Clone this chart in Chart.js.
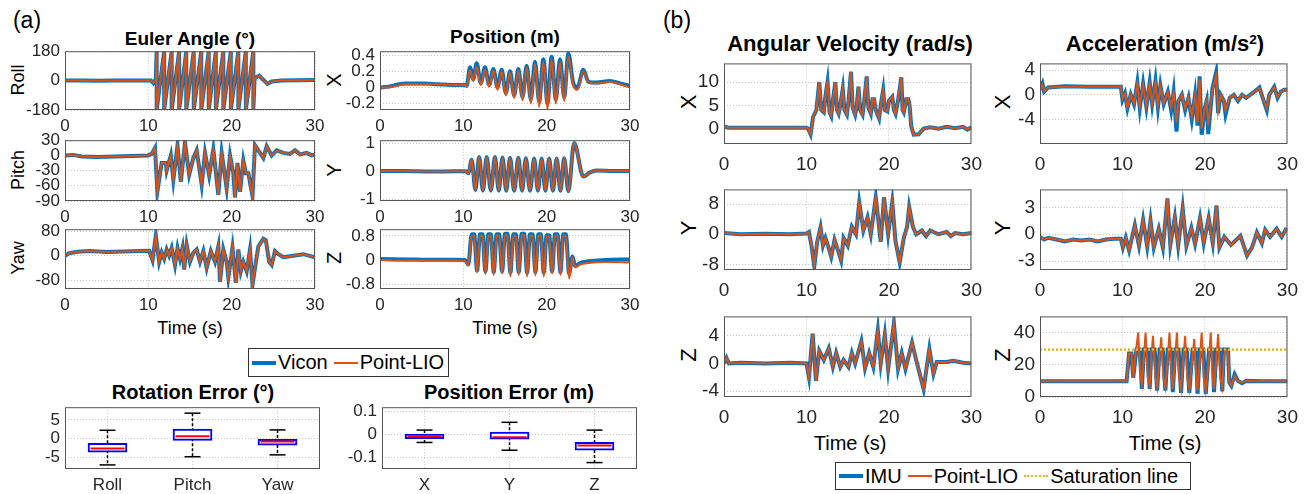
<!DOCTYPE html>
<html>
<head>
<meta charset="utf-8">
<script src="https://cdn.jsdelivr.net/npm/chart.js@4.4.0/dist/chart.umd.min.js"></script>
<style>
  body { margin: 0; background: #fff; }
  #fig { position: relative; width: 1314px; height: 494px; overflow: hidden;
         font-family: 'Liberation Sans', Arial, Helvetica, sans-serif; color: #000; }
  #fig canvas { position: absolute; }
  .t { position: absolute; white-space: nowrap; line-height: 1; transform: translate(-50%, -50%); }
  .b { font-weight: bold; }
  .r { transform: translate(-50%, -50%) rotate(-90deg); }
  .lg { position: absolute; box-sizing: border-box; border: 1px solid #333; background: #fff;
        display: flex; align-items: center; padding: 0 3px; font-size: 20px; white-space: nowrap; }
  .sw { display: inline-block; width: 24px; margin-right: 2px; }
  sup { font-size: 0.62em; vertical-align: 0.55em; }
</style>
</head>
<body>
<div id="fig">
  <div class="t" style="left:27px;top:20px;font-size:23px">(a)</div>
  <div class="t" style="left:677px;top:20px;font-size:23px">(b)</div>

  <div class="t b" style="left:190px;top:38px;font-size:19px">Euler Angle (°)</div>
  <div class="t b" style="left:505px;top:36px;font-size:19px">Position (m)</div>
  <div class="t b" style="left:850px;top:44px;font-size:22px">Angular Velocity (rad/s)</div>
  <div class="t b" style="left:1165px;top:44px;font-size:22px">Acceleration (m/s<sup>2</sup>)</div>

  <div class="t r" style="left:18px;top:80px;font-size:18px">Roll</div>
  <div class="t r" style="left:18px;top:170px;font-size:18px">Pitch</div>
  <div class="t r" style="left:18px;top:258px;font-size:18px">Yaw</div>
  <div class="t r" style="left:334px;top:80px;font-size:20px">X</div>
  <div class="t r" style="left:334px;top:170px;font-size:20px">Y</div>
  <div class="t r" style="left:334px;top:258px;font-size:20px">Z</div>
  <div class="t r" style="left:689px;top:102px;font-size:22px">X</div>
  <div class="t r" style="left:689px;top:228px;font-size:22px">Y</div>
  <div class="t r" style="left:689px;top:355px;font-size:22px">Z</div>
  <div class="t r" style="left:1003px;top:102px;font-size:22px">X</div>
  <div class="t r" style="left:1003px;top:228px;font-size:22px">Y</div>
  <div class="t r" style="left:1003px;top:355px;font-size:22px">Z</div>

  <div class="t" style="left:190px;top:328px;font-size:18px">Time (s)</div>
  <div class="t" style="left:505px;top:328px;font-size:18px">Time (s)</div>
  <div class="t" style="left:850px;top:443px;font-size:20px">Time (s)</div>
  <div class="t" style="left:1165px;top:443px;font-size:20px">Time (s)</div>

  <div class="lg" style="left:248px;top:348px;width:201px;height:29px">
    <span class="sw" style="border-top:4px solid #0072BD"></span>Vicon
    <span class="sw" style="border-top:2px solid #D95319;margin-left:6px"></span>Point-LIO
  </div>
  <div class="lg" style="left:835px;top:462px;width:356px;height:28px">
    <span class="sw" style="border-top:4px solid #0072BD"></span>IMU
    <span class="sw" style="border-top:2px solid #D95319;margin-left:6px"></span>Point-LIO
    <span class="sw" style="border-top:2px dotted #EDB120;margin-left:6px"></span>Saturation line
  </div>

  <div class="t b" style="left:193px;top:392px;font-size:20px">Rotation Error (°)</div>
  <div class="t b" style="left:509px;top:392px;font-size:20px">Position Error (m)</div>

  <canvas id="roll"></canvas><canvas id="pitch"></canvas><canvas id="yaw"></canvas>
  <canvas id="posx"></canvas><canvas id="posy"></canvas><canvas id="posz"></canvas>
  <canvas id="avx"></canvas><canvas id="avy"></canvas><canvas id="avz"></canvas>
  <canvas id="accx"></canvas><canvas id="accy"></canvas><canvas id="accz"></canvas>
  <canvas id="roterr"></canvas><canvas id="poserr"></canvas>
</div>

<script>
const FONT = "'Liberation Sans', Arial, Helvetica, sans-serif";
const TICK_COLOR = '#262626';
const BLUE = '#0072BD', ORANGE = '#D95319', GOLD = '#EDB120';

const timeTicks = [0, 10, 20, 30];

// ---- (a) Euler angle, [time s, deg] ----
const roll = [[0,0],[2,1],[4,-1],[6,0],[8,1],[10.3,0],[10.6,-15],[10.9,10],
  [11.0,180],[11.0,-180],[11.9,180],[11.9,-180],[12.8,180],[12.8,-180],[13.7,180],[13.7,-180],
  [14.55,180],[14.55,-180],[15.45,180],[15.45,-180],[16.35,180],[16.35,-180],[17.25,180],[17.25,-180],
  [18.1,180],[18.1,-180],[19.0,180],[19.0,-180],[19.9,180],[19.9,-180],[20.8,180],[20.8,-180],
  [21.7,180],[21.7,-180],[22.6,180],[22.6,-180],[22.75,15],[23.3,30],[24.3,-20],[24.8,-5],
  [26,0],[28,2],[30,3]];
const pitch = [[0,0],[1,1],[2,-2],[4,-3],[6,-2],[8,-1],[10,0],[10.4,3],[10.8,15],[11.08,-72],
  [11.6,-15],[12.1,-15],[12.2,-30],[12.7,0],[13.0,-48],[13.5,20],[13.9,-52],[14.4,25],[14.9,-38],
  [15.4,-5],[15.8,10],[16.4,-58],[16.8,5],[17.3,-40],[17.8,12],[18.4,-78],[18.8,5],[19.4,-65],
  [19.8,0],[20.2,-35],[20.4,-83],[20.7,-15],[21.0,-72],[21.4,-10],[21.7,-35],[22.0,-35],[22.5,-80],
  [22.8,20],[23.2,10],[23.8,-5],[24.2,18],[24.8,0],[25.4,10],[26.2,5],[27.0,3],[27.6,10],
  [28.2,2],[29.0,5],[29.6,0],[30,2]];
const yaw = [[0,0],[0.5,8],[1.5,13],[3,15],[5,12],[7,14],[9,15],[10.1,16],[10.3,0],[10.5,-15],
  [10.9,65],[11.3,-20],[11.6,10],[11.9,-10],[12.2,20],[12.5,0],[12.8,25],[13.2,-30],[13.5,25],
  [13.8,-10],[14.1,25],[14.3,-45],[14.6,35],[15.0,-20],[15.4,10],[15.8,20],[16.2,-20],[16.6,15],
  [17.0,-40],[17.5,15],[18.0,-20],[18.4,30],[18.6,-85],[19.0,20],[19.4,-20],[19.6,-70],[20.1,25],
  [20.5,-88],[20.8,20],[21.1,-50],[21.4,-20],[21.8,-50],[22.2,20],[22.5,-95],[22.8,-40],[23.2,30],
  [23.8,55],[24.1,50],[24.5,-20],[24.8,-30],[25.2,15],[25.6,5],[26.2,-5],[27.4,0],[28.6,5],[30,-5]];

// ---- (a) Position, [time s, m] ----
const posXVicon = [[0,0],[1,0.01],[3,0.05],[5,0.05],[7,0.04],[9,0.03],[10.2,0.03],[10.4,0.02],
  [10.8,0.25],[11.2,0.1],[11.6,0.3],[12.1,0.05],[12.6,0.25],[13.1,0.03],[13.6,0.23],[14.1,0.0],
  [14.6,0.22],[15.1,-0.07],[15.6,0.2],[16.1,-0.1],[16.6,0.23],[17.1,-0.12],[17.6,0.27],[18.1,-0.15],
  [18.6,0.32],[19.1,-0.18],[19.6,0.35],[20.1,-0.2],[20.6,0.38],[21.1,-0.15],[21.6,0.35],[22.1,-0.12],
  [22.6,0.42],[23.2,0.05],[23.7,0.0],[24.4,0.22],[25.0,0.07],[26.0,0.06],[27.6,0.08],[28.8,0.05],[30,0.02]];
const posXLio = [[0,0],[1,0.0],[3,0.04],[5,0.04],[7,0.04],[9,0.03],[10.2,0.03],[10.4,0.01],
  [10.8,0.22],[11.2,0.08],[11.6,0.26],[12.1,0.03],[12.6,0.22],[13.1,0.01],[13.6,0.21],[14.1,-0.03],
  [14.6,0.2],[15.1,-0.1],[15.6,0.19],[16.1,-0.13],[16.6,0.21],[17.1,-0.16],[17.6,0.25],[18.1,-0.2],
  [18.6,0.29],[19.1,-0.24],[19.6,0.32],[20.1,-0.27],[20.6,0.35],[21.1,-0.2],[21.6,0.32],[22.1,-0.17],
  [22.6,0.38],[23.2,0.02],[23.7,-0.03],[24.4,0.2],[25.0,0.06],[26.0,0.05],[27.6,0.07],[28.8,0.04],[30,0.0]];
const posY = [[0,0],[3,0],[6,-0.02],[9,-0.01],[10.3,-0.01],[10.6,-0.08],[11.0,0.4],[11.45,-0.68],
  [11.9,0.5],[12.35,-0.7],[12.8,0.5],[13.3,-0.7],[13.8,0.5],[14.25,-0.7],[14.7,0.48],[15.15,-0.7],
  [15.6,0.47],[16.1,-0.7],[16.6,0.47],[17.05,-0.7],[17.5,0.46],[18.0,-0.7],[18.5,0.45],[18.95,-0.7],
  [19.4,0.45],[19.85,-0.7],[20.3,0.45],[20.75,-0.7],[21.2,0.45],[21.65,-0.7],[22.1,0.46],[22.6,-0.72],
  [23.3,1.0],[24.4,-0.2],[25.2,-0.05],[26,0.02],[28,0],[30,0]];
const posZVicon = [[0,0.03],[3,0.02],[6,0.01],[9,0.01],[10.2,0],[10.6,-0.15],[11.0,0.85],[11.3,0.85],
  [11.65,-0.35],[12.0,0.85],[12.3,0.85],[12.65,-0.38],[13.0,0.85],[13.3,0.85],[13.65,-0.4],[14.0,0.85],
  [14.3,0.85],[14.65,-0.38],[15.0,0.87],[15.3,0.87],[15.65,-0.42],[16.0,0.85],[16.3,0.85],[16.65,-0.4],
  [17.0,0.87],[17.3,0.87],[17.65,-0.42],[18.0,0.85],[18.3,0.85],[18.65,-0.4],[19.0,0.85],[19.3,0.85],
  [19.65,-0.42],[20.0,0.82],[20.3,0.82],[20.65,-0.38],[21.0,0.85],[21.3,0.85],[21.65,-0.4],[22.0,0.85],
  [22.3,0.85],[22.7,-0.45],[23.1,0.12],[23.4,-0.2],[24.0,-0.1],[25.0,-0.04],[27.0,0.0],[30,0.02]];
const posZLio = [[0,0.0],[3,-0.02],[6,-0.02],[9,-0.02],[10.2,-0.03],[10.6,-0.18],[11.0,0.8],[11.3,0.8],
  [11.65,-0.42],[12.0,0.8],[12.3,0.8],[12.65,-0.47],[13.0,0.8],[13.3,0.8],[13.65,-0.5],[14.0,0.8],
  [14.3,0.8],[14.65,-0.45],[15.0,0.82],[15.3,0.82],[15.65,-0.55],[16.0,0.8],[16.3,0.8],[16.65,-0.5],
  [17.0,0.82],[17.3,0.82],[17.65,-0.55],[18.0,0.8],[18.3,0.8],[18.65,-0.52],[19.0,0.8],[19.3,0.8],
  [19.65,-0.55],[20.0,0.78],[20.3,0.78],[20.65,-0.45],[21.0,0.8],[21.3,0.8],[21.65,-0.5],[22.0,0.8],
  [22.3,0.8],[22.7,-0.62],[23.1,0.08],[23.4,-0.25],[24.0,-0.15],[25.0,-0.1],[27.0,-0.07],[30,-0.08]];

// ---- (b) Angular velocity, [time s, rad/s] ----
const avX = [[0,0.5],[0.5,0.2],[2,0.2],[5,0.2],[8,0.2],[10.0,0.2],[10.2,0],[10.5,-1.2],[10.8,2.5],
  [11.2,4],[11.55,10],[11.8,4],[12.1,3.5],[12.3,7],[12.55,10],[12.8,3.5],[13.0,2.7],[13.2,6],[13.5,10],
  [13.7,4],[13.9,3.2],[14.1,5],[14.4,8.5],[14.6,4],[14.9,3],[15.1,6],[15.4,12.2],[15.6,4.5],[15.9,3],
  [16.1,5],[16.3,9],[16.5,4],[16.8,3],[17.0,6],[17.3,11.2],[17.5,4.5],[17.8,3.2],[18.0,6.3],[18.2,6.3],
  [18.4,4],[18.8,2.2],[19.0,5],[19.3,8.3],[19.5,4],[19.8,3.7],[20.0,6],[20.4,6.8],[20.6,4],[20.8,3.2],
  [21.1,6],[21.5,11],[21.65,4],[21.8,3.5],[22.1,6.3],[22.35,6.3],[22.5,5],[22.7,0.5],[23.0,-1.3],
  [23.6,-1.2],[24.2,0],[25,0.3],[26,0],[27,0.4],[28,0.1],[29,0.4],[29.5,-0.2],[30,0.3]];
const avY = [[0,0.3],[2,0],[5,0.1],[8,0],[10.0,0.2],[10.3,0.6],[10.6,-3],[10.95,-8.5],[11.3,-2],
  [11.7,1.8],[12.0,-3],[12.3,-1],[12.6,-3],[13.0,-6],[13.4,-1.5],[13.7,-3.5],[14.2,-7],[14.5,-1],
  [15.0,-3],[15.5,2],[16.0,0],[16.4,8.5],[16.9,1],[17.4,4.5],[17.8,0],[18.4,9.8],[19.0,-2],[19.4,9.8],
  [19.9,0],[20.4,8.5],[20.8,-2],[21.3,-7.5],[21.8,-1],[22.2,2],[22.45,7.2],[22.9,2],[23.3,0],[24,1],
  [24.5,-0.5],[25,1],[26,0],[27,0.6],[27.5,-0.5],[28,0.3],[29,0],[30,0.3]];
const avZ = [[0,0],[0.3,0.8],[0.6,0],[2,0.1],[5,0],[8,0.1],[10.0,0],[10.3,-2],[10.75,4.3],[11.15,-2.5],
  [11.55,1.8],[12.1,0.5],[12.7,2.2],[13.2,-0.5],[13.6,1.5],[14.1,-0.5],[14.5,0.5],[15.1,-0.5],[15.5,1.5],
  [15.9,0],[16.65,3.2],[17.1,-0.7],[17.6,1.5],[18.1,-0.5],[18.65,4.8],[19.0,0],[19.5,4.2],[19.9,-0.8],
  [20.6,5.8],[21.1,-0.8],[21.55,1.5],[22.0,-0.8],[22.8,3.0],[23.3,0.5],[24.2,-3.7],[24.9,2.1],
  [25.4,-1.5],[25.8,0.2],[27.0,0.2],[27.8,0.4],[29,0.1],[30,0]];

// ---- (b) Acceleration, [time s, m/s^2] ----
const accXImu = [[0,0.8],[0.3,1.8],[0.5,0.5],[1,1.2],[3,1.4],[6,1.3],[9.8,1.3],[10.0,-0.8],[10.3,0.2],
  [10.6,-2.2],[11,0],[11.4,-1.5],[11.8,2],[12.1,-2.2],[12.5,1.8],[12.9,-2],[13.3,2],[13.6,-1.5],
  [14.0,2.3],[14.3,-2.0],[14.6,1.5],[15,-1.5],[15.5,0.5],[15.9,-2.5],[16.2,0.5],[16.55,-6],[16.8,-1],
  [17.2,0],[17.6,-2.5],[18,-0.5],[18.4,-4],[18.8,0],[19.1,-5],[19.35,3],[19.6,-6.5],[20,-2],[20.2,-1],
  [20.4,-6.4],[20.9,1],[21.35,3.6],[21.6,-3],[21.9,0],[22.3,-1],[22.5,-3.2],[23.0,-0.5],[23.5,0],
  [24,-1],[24.5,0],[25,-0.5],[26,0.5],[26.6,1.2],[27,-0.5],[27.5,-2.5],[27.8,0],[28.4,1.3],[28.8,-0.5],
  [29.2,0.5],[29.6,0.8],[30,0.8]];
const accXLio = [[0,0.8],[0.3,1.6],[0.5,0.6],[1,1.2],[3,1.3],[6,1.3],[9.8,1.3],[10.0,-0.6],[10.3,0.2],
  [10.6,-2.0],[11,0],[11.4,-1.4],[11.8,1.8],[12.1,-2.0],[12.5,1.6],[12.9,-1.8],[13.3,1.8],[13.6,-1.4],
  [14.0,2.0],[14.3,-1.8],[14.6,1.3],[15,-1.4],[15.5,0.4],[15.9,-2.0],[16.2,0.4],[16.55,-4.5],[16.8,-1],
  [17.2,0],[17.6,-2.2],[18,-0.5],[18.4,-3.5],[18.8,0],[19.1,-4.5],[19.35,2.5],[19.6,-5.5],[20,-2],
  [20.2,-1],[20.4,-5],[20.9,0.8],[21.35,3.0],[21.6,-2.6],[21.9,0],[22.3,-1],[22.5,-2.5],[23.0,-0.5],
  [23.5,0],[24,-0.9],[24.5,0],[25,-0.5],[26,0.5],[26.6,1.1],[27,-0.5],[27.5,-2.2],[27.8,0],[28.4,1.2],
  [28.8,-0.4],[29.2,0.5],[29.6,0.8],[30,0.8]];
const accY = [[0,-0.3],[0.5,-0.6],[1,-0.4],[2,-0.6],[3,-0.8],[4,-0.6],[5,-0.7],[6,-0.6],[7,-0.8],
  [8,-0.6],[9,-0.5],[9.8,-0.5],[10.05,-1.5],[10.4,-0.4],[10.8,-1.8],[11.5,1.0],[12.0,-1.3],[12.5,1.6],
  [13.0,-1.4],[13.4,1.5],[13.8,-1.5],[14.4,0.6],[14.9,-1.5],[15.45,4.0],[15.8,-1.2],[16.35,1.9],
  [16.75,-1.3],[17.3,2.9],[17.75,-1.3],[18.35,0.7],[18.8,-1.1],[19.4,1.8],[19.85,-1.0],[20.45,1.8],
  [20.95,-1.0],[21.4,3.2],[21.75,-1.5],[22.35,-0.3],[23.15,-1.2],[24.3,-0.2],[25.1,-2.4],[25.7,-1.5],
  [26.3,0.2],[26.9,-1],[27.3,0.5],[27.9,-0.3],[28.7,0.6],[29.3,-0.3],[29.9,0.7]];
const accZImu = [[0,9.8],[5,9.8],[10.5,9.8],[10.8,27],[11.1,27],[11.3,12],[11.7,29.4],[12.1,29.4],
  [12.35,5],[12.6,29.4],[13.0,29.4],[13.3,5],[13.5,29.4],[13.9,29.4],[14.2,4],[14.5,29.4],[14.9,29.4],
  [15.2,4],[15.5,29.4],[15.9,29.4],[16.1,3],[16.4,29.4],[16.8,29.4],[17.1,2.5],[17.4,29.4],[17.8,29.4],
  [18.1,2.5],[18.5,29.4],[18.9,29.4],[19.1,2],[19.4,29.4],[19.8,29.4],[20.1,2],[20.5,29.4],[20.9,29.4],
  [21.1,3],[21.4,29.4],[21.8,29.4],[22.1,3.5],[22.3,29.4],[22.8,29.4],[22.95,9],[23.2,7],[23.6,14],
  [24.0,10],[24.5,8.5],[25,10],[27,9.8],[30,9.8]];
const accZLio = [[0,9.8],[5,9.8],[10.5,9.8],[10.8,27],[11.1,27],[11.3,12],[11.6,27],[11.9,40],[12.2,12],
  [12.35,8],[12.6,25],[12.8,40],[13.05,12],[13.3,7],[13.5,25],[13.7,38],[14.0,12],[14.2,6],[14.5,25],
  [14.7,37],[14.95,12],[15.2,6],[15.5,25],[15.7,40],[15.95,12],[16.1,5],[16.4,25],[16.6,40],[16.85,12],
  [17.1,5],[17.4,25],[17.6,38],[17.85,12],[18.1,5],[18.5,25],[18.7,36],[18.95,12],[19.1,4],[19.4,25],
  [19.6,40],[19.85,12],[20.1,4],[20.5,25],[20.7,40],[20.95,12],[21.1,5],[21.4,25],[21.6,39],[21.85,12],
  [22.1,6],[22.3,25],[22.5,29],[22.8,29],[22.95,9],[23.2,7],[23.6,13],[24.0,10],[24.5,9],[25,10],
  [27,9.8],[30,9.8]];
const saturation = [[0,29.4],[30,29.4]];

// ---- box plots ----
const rotCats = ['Roll', 'Pitch', 'Yaw'];
const rotLow  = [-7.1, -4.9, -4.4];
const rotQ1   = [-3.7, -0.5, -1.8];
const rotMed  = [-2.7, 0.6, -0.8];
const rotQ3   = [-1.3, 2.5, -0.2];
const rotHigh = [2.2, 6.8, 2.3];
const posCats = ['X', 'Y', 'Z'];
const posLow  = [-0.034, -0.068, -0.122];
const posQ1   = [-0.018, -0.02, -0.068];
const posMed  = [-0.008, -0.011, -0.047];
const posQ3   = [0.003, 0.011, -0.034];
const posHigh = [0.02, 0.054, 0.02];

// tick values
const rollTicks = [-180, 0, 180], pitchTicks = [-90, -60, -30, 0, 30], yawTicks = [-80, 0, 80];
const posXTicks = [-0.2, 0, 0.2, 0.4], posYTicks = [-1, 0, 1], posZTicks = [-0.8, 0, 0.8];
const avXTicks = [0, 5, 10], avYTicks = [-8, 0, 8], avZTicks = [-4, 0, 4];
const accXTicks = [-4, 0, 4], accYTicks = [-3, 0, 3], accZTicks = [0, 20, 40];
const rotTicks = [-5, 0, 5], posErrTicks = [-0.1, 0, 0.1];

Chart.defaults.font.family = FONT;

const frame = {
  id: 'frame',
  afterDatasetsDraw(chart) {
    const a = chart.chartArea, ctx = chart.ctx;
    ctx.save();
    ctx.strokeStyle = '#555';
    ctx.lineWidth = 1;
    ctx.strokeRect(a.left + 0.5, a.top + 0.5, a.right - a.left - 1, a.bottom - a.top - 1);
    ctx.restore();
  }
};

const PT = 14, PR = 16;
const grid = { color: '#c4c4c4', drawTicks: false };
const border = { display: false, dash: [1, 2] };

function setBox(cv, r, yw, xh) {
  cv.width = yw + r.w + PR;
  cv.height = PT + r.h + xh;
  cv.style.left = (r.x - yw) + 'px';
  cv.style.top = (r.y - PT) + 'px';
}

function yScale(o) {
  return {
    min: o.min, max: o.max,
    afterBuildTicks: s => { s.ticks = o.ticks.map(v => ({ value: v })); },
    afterFit: s => { s.width = o.yw; },
    grid: grid, border: border,
    ticks: { autoSkip: false, padding: 5, color: TICK_COLOR, font: { size: o.fs }, callback: v => String(v) }
  };
}

function lineChart(id, r, o) {
  const cv = document.getElementById(id);
  setBox(cv, r, o.yw, o.xh);
  return new Chart(cv, {
    type: 'line',
    data: {
      datasets: o.series.map(s => ({
        label: s.label,
        data: s.pts.map(p => ({ x: p[0], y: p[1] })),
        borderColor: s.color, borderWidth: s.width, borderDash: s.dash || [],
        pointRadius: 0, fill: false, tension: 0,
        cubicInterpolationMode: o.smooth ? 'monotone' : 'default'
      }))
    },
    options: {
      responsive: false, animation: false, events: [],
      layout: { padding: { top: PT, right: PR, left: 0, bottom: 0 } },
      plugins: { legend: { display: false }, tooltip: { enabled: false } },
      scales: {
        x: {
          type: 'linear', min: 0, max: 30,
          afterBuildTicks: s => { s.ticks = timeTicks.map(v => ({ value: v })); },
          afterFit: s => { s.height = o.xh; },
          grid: grid, border: border,
          ticks: { autoSkip: false, maxRotation: 0, padding: o.xpad, color: TICK_COLOR, font: { size: o.fs } }
        },
        y: yScale(o)
      }
    },
    plugins: [frame]
  });
}

function boxParts(low, med, high) {
  return {
    id: 'boxParts',
    beforeDatasetsDraw(chart) {
      const { ctx, scales: { x, y } } = chart;
      ctx.save();
      ctx.strokeStyle = '#000';
      ctx.lineWidth = 1.5;
      low.forEach((v, i) => {
        const px = x.getPixelForValue(i);
        ctx.setLineDash([3, 2]);
        ctx.beginPath();
        ctx.moveTo(px, y.getPixelForValue(high[i]));
        ctx.lineTo(px, y.getPixelForValue(low[i]));
        ctx.stroke();
        ctx.setLineDash([]);
        [low[i], high[i]].forEach(w => {
          const py = y.getPixelForValue(w);
          ctx.beginPath(); ctx.moveTo(px - 8, py); ctx.lineTo(px + 8, py); ctx.stroke();
        });
      });
      ctx.restore();
    },
    afterDatasetsDraw(chart) {
      const { ctx, scales: { x, y } } = chart;
      ctx.save();
      ctx.strokeStyle = '#ff0000';
      ctx.lineWidth = 2;
      med.forEach((m, i) => {
        const px = x.getPixelForValue(i), py = y.getPixelForValue(m);
        ctx.beginPath(); ctx.moveTo(px - 17, py); ctx.lineTo(px + 17, py); ctx.stroke();
      });
      ctx.restore();
    }
  };
}

function boxChart(id, r, o) {
  const cv = document.getElementById(id);
  setBox(cv, r, o.yw, o.xh);
  return new Chart(cv, {
    type: 'bar',
    data: {
      labels: o.cats,
      datasets: [{
        data: o.cats.map((c, i) => [o.q1[i], o.q3[i]]),
        backgroundColor: '#ffffff', borderColor: '#0000ff', borderWidth: 2,
        borderSkipped: false, barThickness: 39
      }]
    },
    options: {
      responsive: false, animation: false, events: [],
      layout: { padding: { top: PT, right: PR, left: 0, bottom: 0 } },
      plugins: { legend: { display: false }, tooltip: { enabled: false } },
      scales: {
        x: {
          afterFit: s => { s.height = o.xh; },
          grid: Object.assign({ offset: false }, grid), border: border,
          ticks: { maxRotation: 0, padding: o.xpad, color: TICK_COLOR, font: { size: o.fs } }
        },
        y: yScale(o)
      }
    },
    plugins: [boxParts(o.low, o.med, o.high), frame]
  });
}

function pair(pts, lio) {
  return [
    { label: 'Point-LIO', pts: lio || pts, color: ORANGE, width: 2 },
    { label: 'Vicon', pts: pts, color: BLUE, width: 4 }
  ];
}

// (a) left column
const A = { yw: 50, xh: 30, fs: 17, xpad: 6 };
lineChart('roll',  { x: 65, y: 50, w: 250, h: 60 }, Object.assign({ min: -180, max: 180, ticks: rollTicks, series: pair(roll) }, A));
lineChart('pitch', { x: 65, y: 139, w: 250, h: 62 }, Object.assign({ min: -90, max: 30, ticks: pitchTicks, series: pair(pitch) }, A));
lineChart('yaw',   { x: 65, y: 228, w: 250, h: 61 }, Object.assign({ min: -108, max: 86, ticks: yawTicks, series: pair(yaw) }, A));

// (a) right column
const P = { yw: 50, xh: 30, fs: 17, xpad: 6, smooth: true };
lineChart('posx', { x: 380, y: 50, w: 250, h: 60 }, Object.assign({ min: -0.28, max: 0.45, ticks: posXTicks, series: pair(posXVicon, posXLio) }, P));
lineChart('posy', { x: 380, y: 139, w: 250, h: 62 }, Object.assign({ min: -1.07, max: 1.1, ticks: posYTicks, series: pair(posY) }, P));
lineChart('posz', { x: 380, y: 228, w: 250, h: 61 }, Object.assign({ min: -0.96, max: 1.02, ticks: posZTicks, series: pair(posZVicon, posZLio) }, P));

// (b)
const B = { yw: 52, xh: 34, fs: 19, xpad: 9 };
lineChart('avx', { x: 724, y: 61, w: 251, h: 83 }, Object.assign({ min: -3.3, max: 14, ticks: avXTicks, series: pair(avX) }, B));
lineChart('avy', { x: 724, y: 187, w: 251, h: 83 }, Object.assign({ min: -9.5, max: 11.9, ticks: avYTicks, series: pair(avY) }, B));
lineChart('avz', { x: 724, y: 314, w: 251, h: 83 }, Object.assign({ min: -4.85, max: 6.8, ticks: avZTicks, series: pair(avZ) }, B));
lineChart('accx', { x: 1040, y: 61, w: 251, h: 83 }, Object.assign({ min: -8, max: 5.1, ticks: accXTicks, series: pair(accXImu, accXLio) }, B));
lineChart('accy', { x: 1040, y: 187, w: 251, h: 83 }, Object.assign({ min: -4, max: 5, ticks: accYTicks, series: pair(accY) }, B));
lineChart('accz', { x: 1040, y: 314, w: 251, h: 83 }, Object.assign({ min: 0, max: 50, ticks: accZTicks,
  series: [{ label: 'Saturation line', pts: saturation, color: GOLD, width: 2.5, dash: [2, 2] }].concat(pair(accZImu, accZLio)) }, B));

// error box plots
boxChart('roterr', { x: 65, y: 406, w: 255, h: 63 }, { yw: 50, xh: 30, fs: 17, xpad: 6,
  min: -8.2, max: 8.4, ticks: rotTicks, cats: rotCats, low: rotLow, q1: rotQ1, med: rotMed, q3: rotQ3, high: rotHigh });
boxChart('poserr', { x: 382, y: 406, w: 255, h: 63 }, { yw: 52, xh: 30, fs: 17, xpad: 6,
  min: -0.15, max: 0.12, ticks: posErrTicks, cats: posCats, low: posLow, q1: posQ1, med: posMed, q3: posQ3, high: posHigh });
</script>
</body>
</html>
